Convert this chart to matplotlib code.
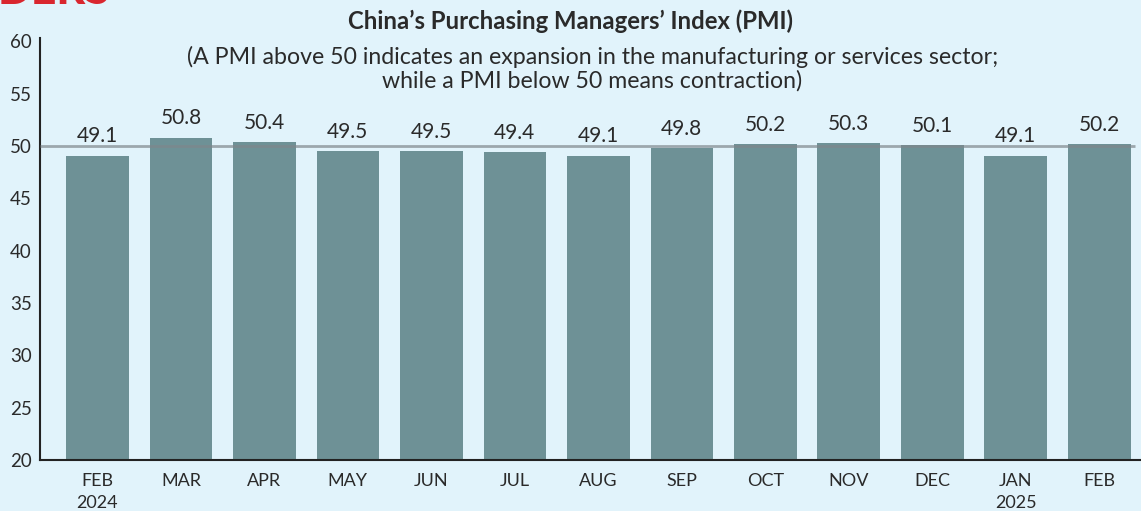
import numpy as np
import matplotlib.pyplot as plt

months = ["FEB\n2024", "MAR", "APR", "MAY", "JUN", "JUL", "AUG", "SEP",
          "OCT", "NOV", "DEC", "JAN\n2025", "FEB"]
pmi = [49.1, 50.8, 50.4, 49.5, 49.5, 49.4, 49.1, 49.8, 50.2, 50.3, 50.1, 49.1, 50.2]
yticks = [20, 25, 30, 35, 40, 45, 50, 55, 60]

bg = '#e1f3fb'
bar_color = '#6e9196'
text_color = '#2a2a2a'

plt.rcParams['font.family'] = ['Lato', 'DejaVu Sans']

fig = plt.figure(figsize=(11.41, 5.11), dpi=100)
fig.patch.set_facecolor(bg)
ax = fig.add_axes([0.0351, 0.0998, 0.9649, 0.8258])
ax.set_facecolor(bg)

x = np.arange(len(months))
ax.bar(x, pmi, width=0.75, color=bar_color, zorder=2)
# 50 line marks expansion / contraction
ax.hlines(50, -0.687, 12.43, color='#7f878c', alpha=0.7, lw=2, zorder=3)

for xi, v in zip(x, pmi):
    ax.text(xi, v + 0.9, f"{v:.1f}", ha='center', va='bottom',
            fontsize=15, color=text_color)

ax.set_xlim(-0.687, 12.5)
ax.set_ylim(20, 60.33)
ax.set_yticks(yticks)
ax.set_xticks(x)
ax.set_xticklabels(months, fontsize=13, color=text_color, linespacing=1.5)
ax.tick_params(axis='y', length=0, pad=6, labelsize=13.5, labelcolor=text_color)
ax.tick_params(axis='x', length=0, pad=9)
for s in ['top', 'right']:
    ax.spines[s].set_visible(False)
for s in ['left', 'bottom']:
    ax.spines[s].set_color('#222222')
    ax.spines[s].set_linewidth(1.5)

fig.text(0.5, 1 - 21.5 / 511, "China\u2019s Purchasing Managers\u2019 Index (PMI)",
         ha='center', va='center', fontsize=17.2, fontweight='bold', color=text_color)
fig.text(593 / 1141, 1 - 64 / 511,
         "(A PMI above 50 indicates an expansion in the manufacturing or services sector;",
         ha='center', va='baseline', fontsize=16.7, color=text_color)
fig.text(592 / 1141, 1 - 88 / 511, "while a PMI below 50 means contraction)",
         ha='center', va='baseline', fontsize=16.7, color=text_color)
# cut-off header remnant at the top edge
fig.text(-0.002, 1 - 4 / 511, "DERS", ha='left', va='baseline', fontsize=32,
         fontweight='black', color='#d9262e')

fig.savefig('out.png', dpi=100, facecolor=bg)
